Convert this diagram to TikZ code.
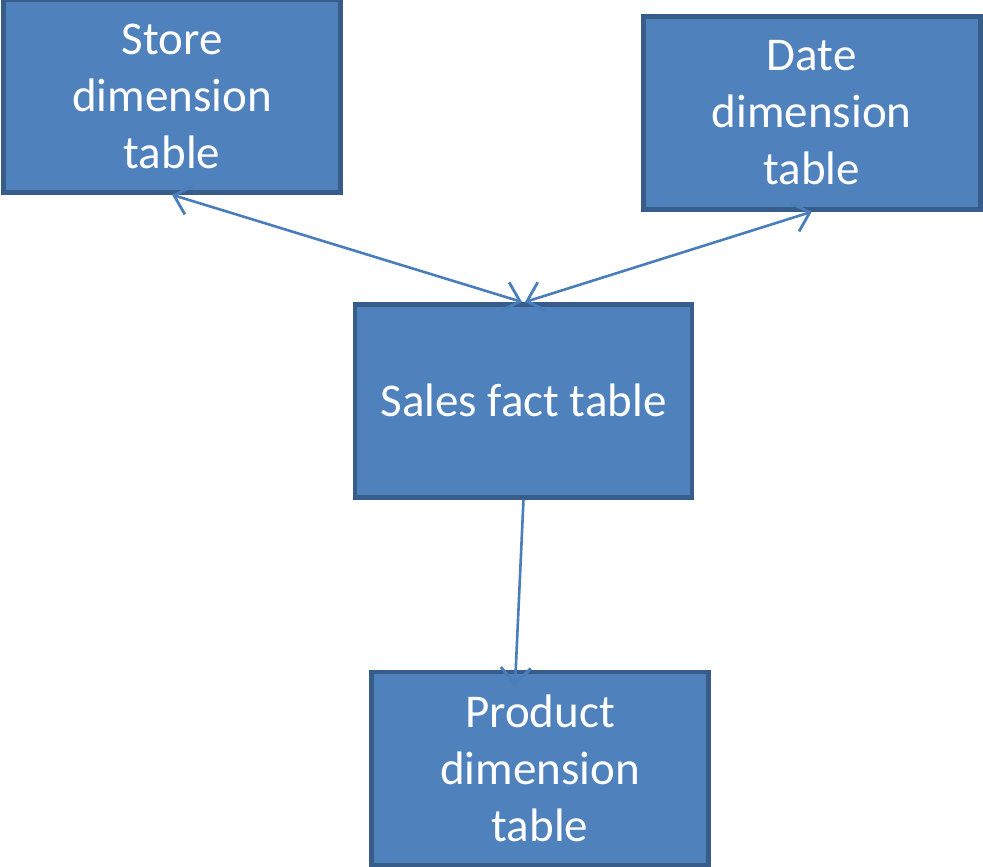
\documentclass[tikz,border=0pt]{standalone}
\usepackage{fontspec}
\setmainfont{Carlito}
\usepackage{tikz}
\usetikzlibrary{arrows.meta}
\usetikzlibrary{calc}

\definecolor{boxfill}{HTML}{4F81BD}
\definecolor{boxline}{HTML}{385D8A}
\definecolor{linkcol}{HTML}{4A7EBB}

\begin{document}
\begin{tikzpicture}[x=1pt, y=-1pt,
    >={Straight Barb[length=16pt, width=30pt, line width=2.8pt]},
    tablebox/.style={draw=boxline, fill=boxfill, line width=4.5pt,
        minimum width=337pt, minimum height=193pt, inner sep=0pt,
        text=white, align=center, font=\fontsize{47}{57}\selectfont,
        execute at begin node={\vspace*{5pt}}},
    link/.style={draw=linkcol, line width=2.6pt}]
    \useasboundingbox (0,0) rectangle (983,867);
    \foreach \name/\pos/\txt in {store/{172,96}/{Store\\dimension\\table},
        date/{811.75,113}/{Date\\dimension\\table},
        sales/{523.5,400.75}/{Sales fact table},
        product/{540,768.5}/{Product\\dimension\\table}} {
        \node[tablebox] (\name) at (\pos) {\txt};
    }
    \draw[link, <->] (store.south) -- ([xshift=-1.5pt]sales.north);
    \draw[link, <->] (date.south) -- ([xshift=1.5pt]sales.north);
    \draw[link, ->] (sales.south) -- ([xshift=-25pt, yshift=-16pt]product.north);
\end{tikzpicture}
\end{document}
